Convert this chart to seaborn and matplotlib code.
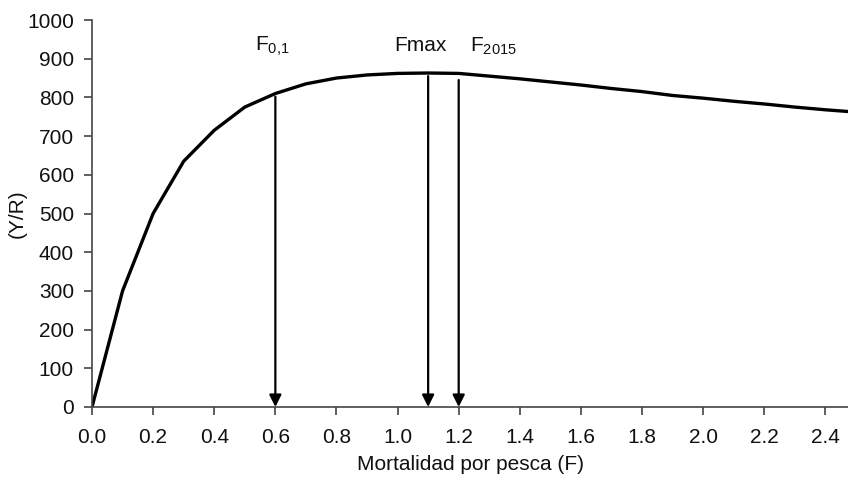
import pandas as pd
import matplotlib.pyplot as plt
import seaborn as sns
import numpy as np

# Curva de rendimiento por recluta (Y/R) vs mortalidad por pesca (F)
F = [0.0, 0.1, 0.2, 0.3, 0.4, 0.5, 0.6, 0.7, 0.8, 0.9, 1.0, 1.1, 1.2, 1.3,
     1.4, 1.5, 1.6, 1.7, 1.8, 1.9, 2.0, 2.1, 2.2, 2.3, 2.4, 2.5]
YR = [0, 300, 500, 635, 715, 775, 810, 835, 850, 858, 862, 863, 862, 855,
      848, 840, 832, 823, 815, 805, 798, 790, 783, 775, 768, 762]

# Puntos de referencia
ref_names = ['F$_{0{,}1}$', 'Fmax', 'F$_{2015}$']
ref_F = [0.6, 1.1, 1.2]
ref_top = [802, 855, 845]
label_x = [0.59, 1.075, 1.315]

sns.set_style('white')
plt.rcParams['font.family'] = ['Liberation Sans', 'DejaVu Sans']
plt.rcParams['mathtext.fontset'] = 'custom'
plt.rcParams['mathtext.rm'] = 'Liberation Sans'
plt.rcParams['mathtext.it'] = 'Liberation Sans'

fig = plt.figure(figsize=(8.48, 5), dpi=100)
ax = fig.add_axes([0.1085, 0.186, 0.8915, 0.774])

dt = pd.DataFrame({'F': F, 'YR': YR})
sns.lineplot(data=dt, x='F', y='YR', ax=ax, color='black', linewidth=2.4)

for name, x, top, lx in zip(ref_names, ref_F, ref_top, label_x):
    ax.annotate('', xy=(x, 0), xytext=(x, top),
                arrowprops=dict(arrowstyle='-|>', color='black', lw=1.6,
                                mutation_scale=18, shrinkA=0, shrinkB=0))
    ax.text(lx, 933, name, ha='center', va='center', fontsize=15, color='#111111')

ax.set_xlim(0, 2.474)
ax.set_ylim(0, 1000)
ax.set_xticks(np.arange(0, 2.41, 0.2))
ax.set_xticklabels([f'{v:.1f}' for v in np.arange(0, 2.41, 0.2)])
ax.set_yticks(np.arange(0, 1001, 100))
ax.tick_params(axis='both', labelsize=15, length=6, width=1.2, direction='out',
               left=True, bottom=True, colors='#444444', labelcolor='#111111')
ax.tick_params(axis='x', pad=9)
ax.tick_params(axis='y', pad=7)
for s in ['top', 'right']:
    ax.spines[s].set_visible(False)
for s in ['left', 'bottom']:
    ax.spines[s].set_color('#444444')
    ax.spines[s].set_linewidth(1.2)

ax.set_xlabel('Mortalidad por pesca (F)', fontsize=15, labelpad=6, color='#111111')
ax.set_ylabel('(Y/R)', fontsize=15, labelpad=0, color='#111111')

fig.savefig('out.png', dpi=100)
